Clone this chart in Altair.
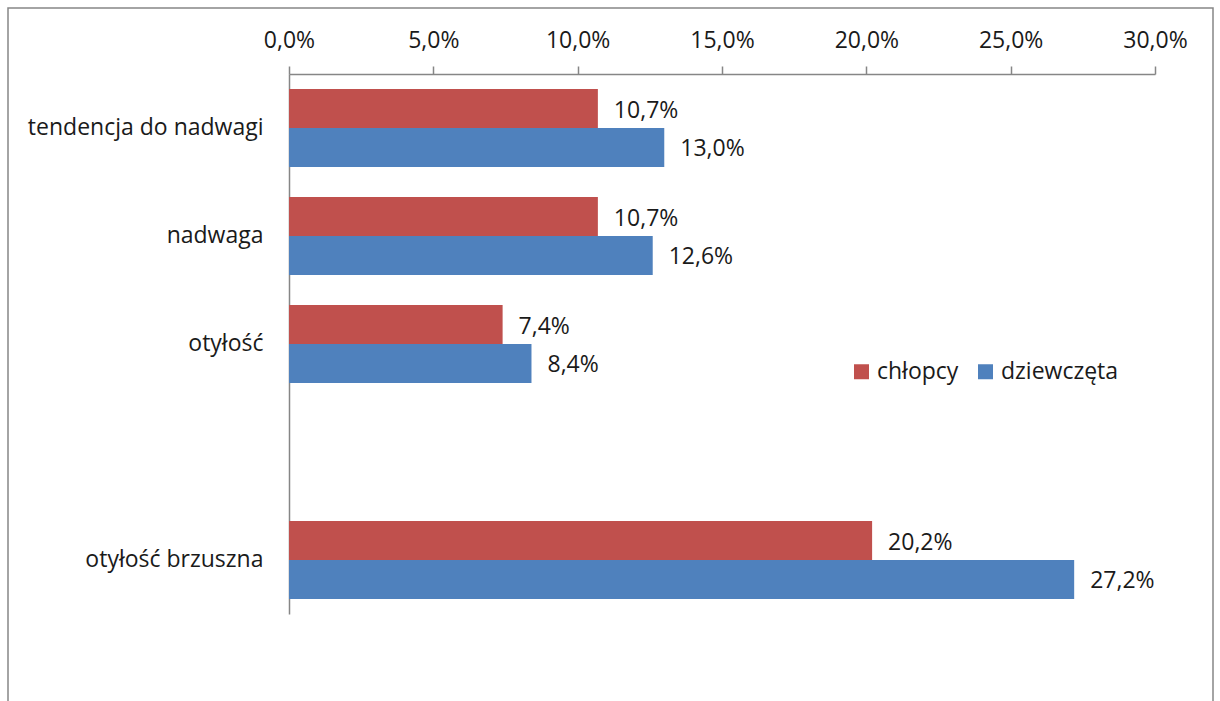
import altair as alt
import pandas as pd

categories = ["tendencja do nadwagi", "nadwaga", "otyłość", " ", "otyłość brzuszna"]
data_categories = ["tendencja do nadwagi", "nadwaga", "otyłość", "otyłość brzuszna"]
series = ["chłopcy", "dziewczęta"]
chlopcy = [0.107, 0.107, 0.074, 0.202]
dziewczeta = [0.130, 0.126, 0.084, 0.272]
x_ticks = [0.0, 0.05, 0.10, 0.15, 0.20, 0.25, 0.30]
colors = ["#C0504D", "#4F81BD"]

rows = []
for c, b, g in zip(data_categories, chlopcy, dziewczeta):
    for s, v in ((series[0], b), (series[1], g)):
        rows.append({"kategoria": c, "seria": s, "wartosc": v,
                     "etykieta": f"{v*100:.1f}%".replace(".", ",")})
df = pd.DataFrame(rows)

FONT = "Open Sans"
FS = 23

y_enc = alt.Y("kategoria:N", sort=categories,
              scale=alt.Scale(domain=categories, paddingInner=0.28, paddingOuter=0.14),
              axis=alt.Axis(title=None, ticks=False, domainColor="#868686", domainWidth=1.5,
                            labelFontSize=FS, labelColor="#1a1a1a", labelPadding=26,
                            labelFont=FONT, labelLimit=400, grid=False))
yoff = alt.YOffset("seria:N", sort=series, scale=alt.Scale(domain=series, paddingInner=0, paddingOuter=0))
x_enc = alt.X("wartosc:Q",
              scale=alt.Scale(domain=[0, 0.3], nice=False),
              axis=alt.Axis(orient="top", title=None, values=x_ticks,
                            labelExpr="replace(format(datum.value, '.1%'), '.', ',')",
                            labelFontSize=FS, labelFont=FONT, labelColor="#1a1a1a",
                            labelFlush=False, labelOverlap=False,
                            tickSize=8, tickColor="#868686", domainColor="#868686",
                            domainWidth=1.5, tickWidth=1.5, labelPadding=14, grid=False))

bars = alt.Chart(df).mark_bar(size=39).encode(
    y=y_enc, yOffset=yoff, x=x_enc,
    color=alt.Color("seria:N", sort=series,
                    scale=alt.Scale(domain=series, range=colors),
                    legend=alt.Legend(title=None, orient="none", legendX=561, legendY=286,
                                      direction="horizontal", symbolType="square",
                                      symbolSize=225, symbolStrokeWidth=0,
                                      labelFontSize=FS, labelFont=FONT, labelColor="#1a1a1a",
                                      labelOffset=4, columnPadding=15))
)

labels = alt.Chart(df).mark_text(align="left", baseline="middle", dx=16, dy=2, fontSize=FS,
                                 font=FONT, color="#1a1a1a").encode(
    y=alt.Y("kategoria:N", sort=categories), yOffset=yoff, x="wartosc:Q", text="etykieta:N"
)

border = alt.Chart(pd.DataFrame({"a": [0]})).mark_rect(
    fill=None, stroke="#868686", strokeWidth=1.5, clip=False
).encode(x=alt.value(-281), x2=alt.value(924), y=alt.value(-66), y2=alt.value(640))

chart = alt.layer(border, bars, labels).properties(
    width=866, height=540,
    autosize=alt.AutoSizeParams(type="none"),
    padding={"left": 289, "top": 74, "right": 65, "bottom": 87},
).configure(background="white").configure_view(strokeWidth=0, stroke="transparent")

chart.save("out.html", embed_options={"renderer": "svg", "actions": False})
